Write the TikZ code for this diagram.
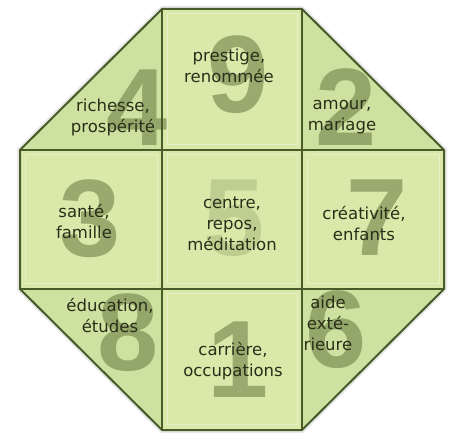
\documentclass[tikz,border=0pt]{standalone}
\usepackage{fontspec}
\setmainfont{Liberation Sans}
\newfontfamily\labelfont{DejaVu Sans}
\usepackage{xcolor}
\usetikzlibrary{positioning}
\definecolor{cellfill}{HTML}{DAE9AA}
\definecolor{cornerfill}{HTML}{CDE2A0}
\definecolor{gridline}{HTML}{4A5B2A}
\definecolor{digitcol}{HTML}{6E8048}
\definecolor{labelcol}{HTML}{2A2E18}

\begin{document}
\begin{tikzpicture}[x=1pt,y=-1pt,
    cell/.style={fill=cellfill,draw=none},
    corner/.style={fill=cornerfill,draw=none},
    frame/.style={draw=gridline,line width=2pt,line join=round},
    inner/.style={draw=white,opacity=0.35,line width=1pt},
    digit/.style={inner sep=0pt,text=digitcol,text opacity=0.6,
                  font=\fontsize{110}{110}\selectfont\bfseries},
    label/.style={align=center,inner sep=0pt,text=labelcol,
                  font=\labelfont\fontsize{16.5}{21}\selectfont}]
  \useasboundingbox (0,0) rectangle (459,436);
  % outer octagon corners
  \coordinate (tl) at (162,9);   \coordinate (tr) at (302,9);
  \coordinate (rt) at (444,150); \coordinate (rb) at (444,289);
  \coordinate (br) at (302,430); \coordinate (bl) at (162,430);
  \coordinate (lb) at (20,289);  \coordinate (lt) at (20,150);
  % soft shadow
  \draw[gray!50,opacity=0.35,line width=6pt,line join=round,shift={(2,3)}]
    (tl) -- (tr) -- (rt) -- (rb) -- (br) -- (bl) -- (lb) -- (lt) -- cycle;
  \fill[cell] (tl) -- (tr) -- (rt) -- (rb) -- (br) -- (bl) -- (lb) -- (lt) -- cycle;
  \fill[corner] (tl) -- (162,150) -- (lt) -- cycle;
  \fill[corner] (tr) -- (302,150) -- (rt) -- cycle;
  \fill[corner] (lb) -- (162,289) -- (bl) -- cycle;
  \fill[corner] (rb) -- (302,289) -- (br) -- cycle;
  % faint inner borders of the squares
  \draw[inner] (167,14) rectangle (297,145);
  \draw[inner] (25,155) rectangle (157,284);
  \draw[inner] (167,155) rectangle (297,284);
  \draw[inner] (307,155) rectangle (439,284);
  \draw[inner] (167,294) rectangle (297,425);
  % big numbers
  \node[digit] (n4) at (137,108) {4};
  \node[digit] (n9) at (238,75)  {9};
  \node[digit] (n2) at (346,107) {2};
  \node[digit] (n3) at (90,219)  {3};
  \node[digit,text opacity=0.25] (n5) at (234,218) {5};
  \node[digit] (n7) at (377,218) {7};
  \node[digit] (n8) at (128,333) {8};
  \node[digit] (n1) at (238,360) {1};
  \node[digit] (n6) at (336,330) {6};
  % labels
  \node[label] (wealth) at (113,117) {richesse,\\prospérité};
  \node[label] (fame)   at (229,66)  {prestige,\\renommée};
  \node[label] (love)   at (342,117) {amour,\\mariage};
  \node[label] (health) at (84,222)  {santé,\\famille};
  \node[label] (centre) at (232,224) {centre,\\repos,\\méditation};
  \node[label] (kids)   at (364,224) {créativité,\\enfants};
  \node[label] (study)  at (110,316) {éducation,\\études};
  \node[label] (career) at (233,361) {carrière,\\occupations};
  \node[label] (help)   at (328,323) {aide\\exté-\\rieure};
  % grid and frame
  \draw[frame] (tl) -- (bl);
  \draw[frame] (tr) -- (br);
  \draw[frame] (lt) -- (rt);
  \draw[frame] (lb) -- (rb);
  \draw[frame] (tl) -- (tr) -- (rt) -- (rb) -- (br) -- (bl) -- (lb) -- (lt) -- cycle;
\end{tikzpicture}
\end{document}
